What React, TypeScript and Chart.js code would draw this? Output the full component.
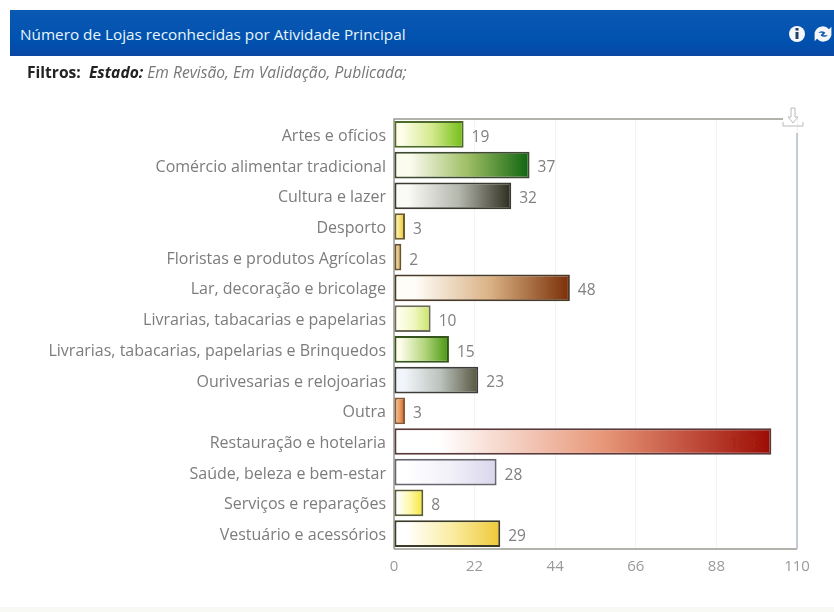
import React, { useEffect, useRef } from "react";
import { Chart, registerables } from "chart.js";

Chart.register(...registerables);

const categories = [
  "Artes e ofícios",
  "Comércio alimentar tradicional",
  "Cultura e lazer",
  "Desporto",
  "Floristas e produtos Agrícolas",
  "Lar, decoração e bricolage",
  "Livrarias, tabacarias e papelarias",
  "Livrarias, tabacarias, papelarias e Brinquedos",
  "Ourivesarias e relojoarias",
  "Outra",
  "Restauração e hotelaria",
  "Saúde, beleza e bem-estar",
  "Serviços e reparações",
  "Vestuário e acessórios",
];
const lojas = [19, 37, 32, 3, 2, 48, 10, 15, 23, 3, 103, 28, 8, 29];
const xTicks = [0, 22, 44, 66, 88, 110];

// Each bar fades left to right through these stops.
const gradientStops = [
  ["#fdfde8", "#d3e98c", "#72bd14"],
  ["#fbfbee", "#9dbd62", "#0d640f"],
  ["#fafaf6", "#b5b8ad", "#2c2c1e"],
  ["#fff6b8", "#f6e070", "#e6bc30"],
  ["#f8e2a8", "#ecc67c", "#c68f3e"],
  ["#fffdf8", "#d9b184", "#7a2e06"],
  ["#ffffee", "#f0f7c0", "#c8e368"],
  ["#fdfdea", "#b5d67e", "#45960f"],
  ["#f2f6fc", "#bcc2bc", "#56563f"],
  ["#f6c596", "#ea9a5c", "#c6581c"],
  ["#ffffff", "#e8987a", "#9c0c04"],
  ["#ffffff", "#f2f0f8", "#d9d6ec"],
  ["#ffffff", "#fdf8a8", "#f4e636"],
  ["#ffffff", "#faeca0", "#efc838"],
];
const borderColors = [
  "#4d6a2a", "#3c4a30", "#3a3a30", "#6a5c30", "#6a5430", "#4a3a28", "#6c6c58",
  "#35551c", "#3c3c38", "#8a5a38", "#5a3a3a", "#66666e", "#5a5a34", "#3c3a28",
];

const valueLabels = {
  id: "valueLabels",
  afterDatasetsDraw(chart: any) {
    const { ctx } = chart;
    const bars = chart.getDatasetMeta(0).data;
    ctx.save();
    ctx.font = "15.5px 'Open Sans'";
    ctx.textBaseline = "middle";
    bars.forEach((bar: any, i: number) => {
      const inside = lojas[i] > 100;
      ctx.fillStyle = inside ? "#a8240e" : "#808080";
      ctx.textAlign = inside ? "right" : "left";
      ctx.fillText(String(lojas[i]), inside ? bar.x - 15 : bar.x + 8, bar.y + 3);
    });
    ctx.restore();
  },
};

const plotFrame = {
  id: "plotFrame",
  beforeDatasetsDraw(chart: any) {
    const { ctx, chartArea: a } = chart;
    ctx.save();
    ctx.lineWidth = 1.5;
    ctx.strokeStyle = "#9a9a94";
    ctx.beginPath();
    ctx.moveTo(a.left, a.bottom);
    ctx.lineTo(a.left, a.top);
    ctx.lineTo(a.right - 14, a.top);
    ctx.moveTo(a.left, a.bottom);
    ctx.lineTo(a.right, a.bottom);
    ctx.stroke();
    ctx.strokeStyle = "#b0bcc8";
    ctx.beginPath();
    ctx.moveTo(a.right, a.top + 14);
    ctx.lineTo(a.right, a.bottom);
    ctx.stroke();
    ctx.restore();
  },
};

export default function App() {
  const canvasRef = useRef<HTMLCanvasElement | null>(null);

  useEffect(() => {
    document.body.style.margin = "0";
    const chart = new Chart(canvasRef.current!, {
      type: "bar",
      data: {
        labels: categories,
        datasets: [
          {
            data: lojas,
            barPercentage: 0.87,
            categoryPercentage: 1,
            borderWidth: 2,
            borderSkipped: false,
            borderColor: borderColors,
            backgroundColor: (c: any) => {
              const { chart: ch, dataIndex, type } = c;
              if (type !== "data" || !ch.chartArea) return "#ffffff";
              const xs = ch.scales.x;
              const g = ch.ctx.createLinearGradient(
                xs.getPixelForValue(0), 0,
                xs.getPixelForValue(lojas[dataIndex]), 0,
              );
              const [a, b, d] = gradientStops[dataIndex];
              g.addColorStop(0, a);
              g.addColorStop(0.12, a);
              g.addColorStop(0.55, b);
              g.addColorStop(1, d);
              return g;
            },
          },
        ],
      },
      options: {
        indexAxis: "y",
        animation: false,
        responsive: false,
        layout: { padding: { top: 119, right: 37, bottom: 0, left: 0 } },
        plugins: { legend: { display: false }, tooltip: { enabled: false } },
        scales: {
          x: {
            min: 0,
            max: 110,
            afterBuildTicks: (s: any) => {
              s.ticks = xTicks.map((value) => ({ value }));
            },
            afterFit: (s: any) => {
              s.height = 63;
            },
            grid: { color: "#f3f3f0", drawTicks: false },
            border: { display: false },
            ticks: {
              color: "#9a9a9a",
              padding: 9,
              maxRotation: 0,
              font: { family: "'Open Sans'", size: 15 },
            },
          },
          y: {
            afterFit: (s: any) => {
              s.width = 394;
            },
            grid: { display: false },
            border: { display: false },
            ticks: {
              color: "#7c7c7c",
              padding: 0,
              labelOffset: 2,
              autoSkip: false,
              font: { family: "'Open Sans'", size: 16 },
            },
          },
        },
      },
      plugins: [plotFrame, valueLabels],
    } as any);
    return () => chart.destroy();
  }, []);

  return (
    <div style={{ position: "relative", width: 834, height: 612, background: "#fff", overflow: "hidden" }}>
      <canvas ref={canvasRef} width={834} height={612} style={{ position: "absolute", left: 0, top: 0 }} />
      <div
        style={{
          position: "absolute", left: 10, top: 10, width: 824, height: 46,
          background: "linear-gradient(#0a5ab4, #0050ae 70%, #0a48a4)",
          color: "#e8f6fb", fontFamily: "'Open Sans'", fontSize: 15.3, lineHeight: "48px", textIndent: 10,
        }}
      >
        Número de Lojas reconhecidas por Atividade Principal
      </div>
      <svg width="50" height="24" style={{ position: "absolute", left: 784, top: 22 }}>
        <circle cx="13" cy="12" r="8" fill="#f4f6f8" />
        <rect x="11.5" y="10" width="3" height="7" fill="#20406a" />
        <rect x="11.5" y="6" width="3" height="2.6" fill="#20406a" />
        <g transform="translate(39 12) scale(1.2) translate(-33 -12)">
          <path d="M26 11a7 7 0 0 1 12-3l2-2v7h-7l2-2a4 4 0 0 0-6 0zM40 13a7 7 0 0 1-12 3l-2 2v-7h7l-2 2a4 4 0 0 0 6 0z" fill="#f4f6f8" />
        </g>
      </svg>
      <div style={{ position: "absolute", left: 27, top: 61, fontFamily: "'Open Sans'", fontSize: 15.6, color: "#777", whiteSpace: "pre" }}>
        <b style={{ color: "#222" }}>Filtros:  </b>
        <b style={{ color: "#222", fontStyle: "italic" }}>Estado: </b>
        <i>Em Revisão, Em Validação, Publicada;</i>
      </div>
      <svg width="26" height="26" style={{ position: "absolute", left: 780, top: 107 }}>
        <path d="M11 1h4v9h3l-5 6-5-6h3z M3 15v4h20v-4" fill="none" stroke="#b8bcb8" strokeWidth="1" />
      </svg>
      <div style={{ position: "absolute", left: 0, bottom: 0, width: 834, height: 5, background: "#f8f8f4" }} />
    </div>
  );
}
